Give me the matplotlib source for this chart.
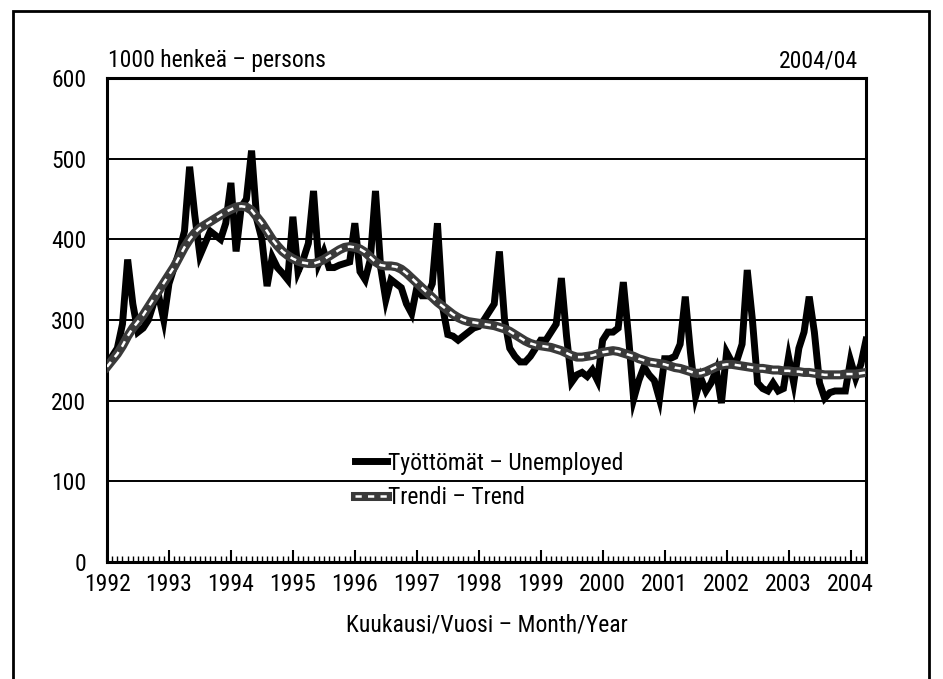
import numpy as np
import matplotlib
matplotlib.use("Agg")
import matplotlib.pyplot as plt
from matplotlib.patches import Rectangle
from matplotlib.ticker import MultipleLocator

plt.rcParams['font.family'] = ['Liberation Sans Narrow', 'Roboto Condensed', 'Archivo Narrow',
                               'Liberation Sans', 'DejaVu Sans']

# monthly values, 1000 persons, Jan 1992 - Apr 2004
unemployed = (
    [245, 255, 265, 295, 375, 320, 285, 290, 300, 320, 330, 300] +   # 1992
    [345, 365, 385, 410, 490, 430, 380, 395, 410, 405, 400, 420] +   # 1993
    [470, 385, 440, 450, 510, 425, 400, 342, 378, 365, 358, 350] +   # 1994
    [428, 360, 375, 395, 460, 370, 385, 365, 365, 368, 370, 372] +   # 1995
    [420, 360, 350, 375, 460, 365, 325, 350, 345, 340, 320, 308] +   # 1996
    [340, 330, 330, 345, 420, 316, 282, 280, 275, 280, 285, 290] +   # 1997
    [292, 300, 310, 320, 385, 300, 265, 255, 248, 248, 255, 265] +   # 1998
    [275, 275, 285, 295, 352, 280, 223, 232, 235, 230, 238, 225] +   # 1999
    [275, 285, 285, 290, 347, 280, 202, 225, 242, 232, 225, 202] +   # 2000
    [252, 252, 255, 270, 329, 260, 205, 228, 212, 222, 238, 197] +   # 2001
    [260, 248, 250, 270, 362, 300, 222, 215, 212, 222, 212, 215] +   # 2002
    [254, 222, 265, 285, 329, 285, 222, 203, 210, 212, 212, 212] +   # 2003
    [250, 228, 245, 275]                                             # 2004
)

trend = (
    [242, 250, 258, 268, 280, 290, 298, 306, 316, 326, 336, 346] +
    [356, 366, 378, 390, 400, 408, 414, 418, 422, 426, 430, 434] +
    [437, 440, 441, 440, 436, 428, 420, 410, 400, 392, 385, 380] +
    [376, 373, 371, 370, 370, 372, 375, 379, 383, 387, 390, 391] +
    [390, 388, 384, 378, 372, 368, 367, 367, 366, 363, 358, 352] +
    [346, 340, 334, 328, 322, 317, 312, 307, 303, 300, 298, 297] +
    [296, 295, 294, 293, 291, 289, 286, 282, 278, 274, 271, 269] +
    [268, 267, 266, 264, 262, 259, 256, 254, 254, 255, 256, 258] +
    [260, 261, 262, 261, 259, 257, 255, 252, 250, 248, 247, 246] +
    [245, 243, 241, 240, 238, 236, 234, 234, 236, 239, 242, 244] +
    [245, 245, 244, 243, 242, 241, 240, 240, 239, 238, 238, 237] +
    [237, 236, 236, 235, 235, 234, 233, 232, 232, 232, 232, 233] +
    [233, 233, 234, 235]
)

years = list(range(1992, 2005))
months = np.arange(len(unemployed))

fig = plt.figure(figsize=(9.43, 6.79), dpi=100)
ax = fig.add_axes([107 / 943, 1 - 562 / 679, 759 / 943, 484 / 679])

fs = 17

l1, = ax.plot(months, unemployed, color='black', lw=5, solid_joinstyle='miter', zorder=3)
t1, = ax.plot(months, trend, color='#3a3a3a', lw=6.5, zorder=4)
t2, = ax.plot(months, trend, color='white', lw=1.8, dashes=(2.5, 2.5), zorder=5)

ax.set_xlim(0, len(unemployed) - 1)
ax.set_ylim(0, 600)
ax.set_yticks(range(0, 601, 100))
ax.set_xticks([12 * k for k in range(len(years))])
ax.set_xticklabels([str(y) for y in years])
ax.xaxis.set_minor_locator(MultipleLocator(1))
ax.tick_params(axis='x', which='major', direction='in', length=9, width=1.5, pad=8, labelsize=fs)
ax.tick_params(axis='x', which='minor', direction='in', length=4, width=1.0)
ax.tick_params(axis='y', length=0, pad=15, labelsize=fs)
ax.grid(axis='y', color='black', lw=1.4)
ax.set_axisbelow(True)
for s in ax.spines.values():
    s.set_linewidth(2.2)

ax.legend([l1, (t1, t2)], ['Työttömät – Unemployed', 'Trendi – Trend'],
          loc='upper left', bbox_to_anchor=(0.327, 0.228), frameon=False,
          fontsize=fs, handlelength=1.35, handletextpad=0.05, labelspacing=0.5,
          borderpad=0, borderaxespad=0)

fig.text(108 / 943, 1 - 60 / 679, '1000 henkeä – persons', fontsize=fs, ha='left', va='center')
fig.text(858 / 943, 1 - 61 / 679, '2004/04', fontsize=fs, ha='right', va='center')
fig.text(487 / 943, 1 - 625 / 679, 'Kuukausi/Vuosi – Month/Year', fontsize=fs, ha='center', va='center')

fig.patches.append(Rectangle((13 / 943, -0.05), 916 / 943, 1.05 - 11 / 679, transform=fig.transFigure,
                             fill=False, lw=2, edgecolor='black'))

fig.savefig('out.png', dpi=100)
